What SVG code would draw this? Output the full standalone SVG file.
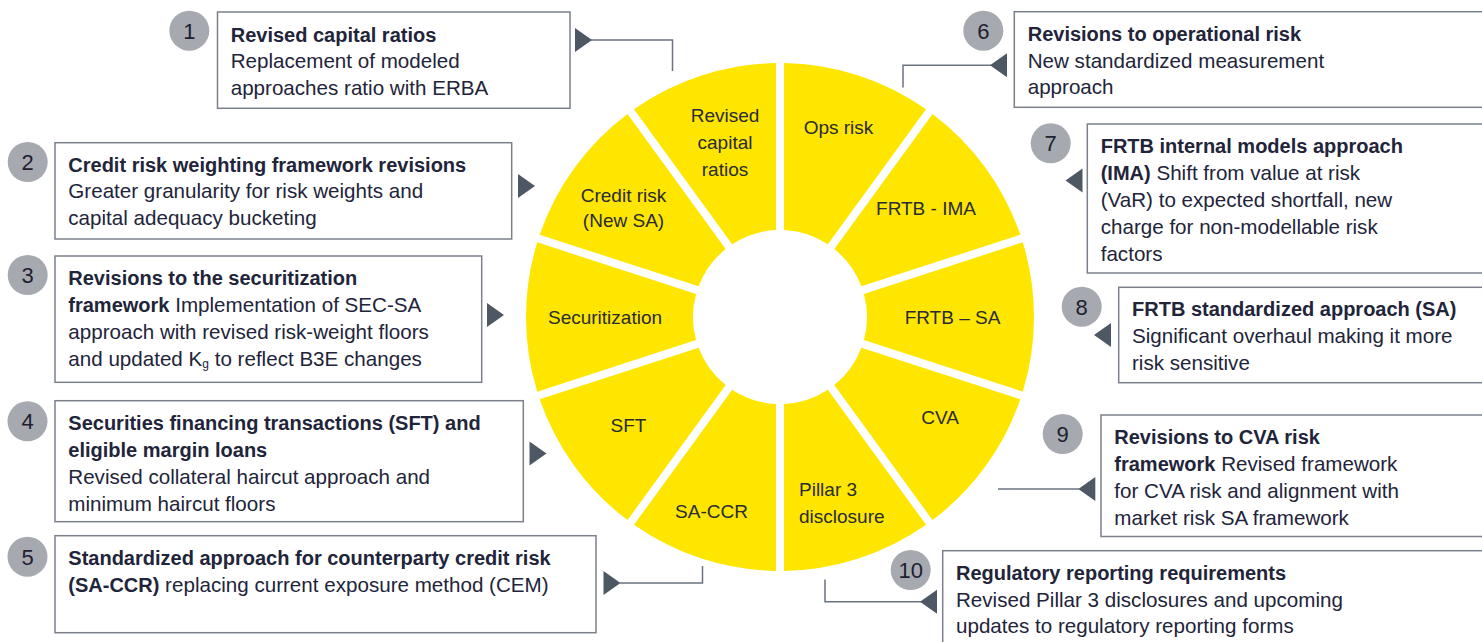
<svg xmlns="http://www.w3.org/2000/svg" xmlns:xlink="http://www.w3.org/1999/xlink" width="1482" height="642" viewBox="0 0 1482 642">
  <style>
    text { font-family: "Liberation Sans", Arial, sans-serif; }
    .box { fill: #ffffff; stroke: #7b808a; stroke-width: 1.5; }
    .t { font-size: 20.6px; fill: #22243a; }
    .b { font-weight: bold; font-size: 20px; }
    .badge { fill: #a6aab0; }
    .num { font-size: 22px; fill: #1f2030; text-anchor: middle; }
    .seg { fill: #ffe600; }
    .wl { font-size: 19px; fill: #2a2b33; text-anchor: middle; }
    .conn { fill: none; stroke: #6b7380; stroke-width: 1.5; }
    .arrow { fill: #4e5865; }
  </style>
  <defs>
    <!-- one wheel sector (0..36 deg, clockwise from 12 o'clock) with 4px half-gap on each side -->
    <path id="sector" d="M4,-253.97 A254,254 0 0 1 146.04,-207.82 L47.85,-72.66 A87,87 0 0 0 4,-86.91 Z"/>
    <!-- arrowheads: right-pointing has its base at origin, left-pointing has its tip at origin -->
    <path id="tri-r" d="M0,-12 L17,0 L0,12 Z"/>
    <path id="tri-l" d="M0,0 L17,-12 L17,12 Z"/>
  </defs>

  <!-- central wheel -->
  <g id="wheel">
    <g id="seg-ops">
      <use xlink:href="#sector" class="seg" transform="translate(780,317) rotate(0)"/>
      <text class="wl" x="838.5" y="133.5">Ops risk</text>
    </g>
    <g id="seg-frtb-ima">
      <use xlink:href="#sector" class="seg" transform="translate(780,317) rotate(36)"/>
      <text class="wl" x="926" y="215">FRTB - IMA</text>
    </g>
    <g id="seg-frtb-sa">
      <use xlink:href="#sector" class="seg" transform="translate(780,317) rotate(72)"/>
      <text class="wl" x="952.5" y="324">FRTB – SA</text>
    </g>
    <g id="seg-cva">
      <use xlink:href="#sector" class="seg" transform="translate(780,317) rotate(108)"/>
      <text class="wl" x="940" y="424">CVA</text>
    </g>
    <g id="seg-pillar3">
      <use xlink:href="#sector" class="seg" transform="translate(780,317) rotate(144)"/>
      <text class="wl" x="799" y="496" style="text-anchor:start">Pillar 3</text>
      <text class="wl" x="799" y="523" style="text-anchor:start">disclosure</text>
    </g>
    <g id="seg-saccr">
      <use xlink:href="#sector" class="seg" transform="translate(780,317) rotate(180)"/>
      <text class="wl" x="711.5" y="517.5">SA-CCR</text>
    </g>
    <g id="seg-sft">
      <use xlink:href="#sector" class="seg" transform="translate(780,317) rotate(216)"/>
      <text class="wl" x="628.5" y="431.5">SFT</text>
    </g>
    <g id="seg-securitization">
      <use xlink:href="#sector" class="seg" transform="translate(780,317) rotate(252)"/>
      <text class="wl" x="605" y="324">Securitization</text>
    </g>
    <g id="seg-credit">
      <use xlink:href="#sector" class="seg" transform="translate(780,317) rotate(288)"/>
      <text class="wl" x="623.5" y="201.5">Credit risk</text>
      <text class="wl" x="623.5" y="227">(New SA)</text>
    </g>
    <g id="seg-capital">
      <use xlink:href="#sector" class="seg" transform="translate(780,317) rotate(324)"/>
      <text class="wl" x="725" y="122">Revised</text>
      <text class="wl" x="725" y="149">capital</text>
      <text class="wl" x="725" y="176">ratios</text>
    </g>
  </g>

  <!-- connectors and arrowheads -->
  <g id="connectors">
    <path class="conn" d="M591,40 H672.5 V71"/>
    <path class="conn" d="M620,583 H702.5 V566"/>
    <path class="conn" d="M991,65.3 H903 V87.5"/>
    <path class="conn" d="M1079,489 H998"/>
    <path class="conn" d="M921,601.7 H825 V579.5"/>
    <use xlink:href="#tri-r" class="arrow" x="575" y="40"/>
    <use xlink:href="#tri-r" class="arrow" x="518" y="186"/>
    <use xlink:href="#tri-r" class="arrow" x="487" y="315"/>
    <use xlink:href="#tri-r" class="arrow" x="529.5" y="453.5"/>
    <use xlink:href="#tri-r" class="arrow" x="603.5" y="583"/>
    <use xlink:href="#tri-l" class="arrow" x="990" y="65.3"/>
    <use xlink:href="#tri-l" class="arrow" x="1065.5" y="180.5"/>
    <use xlink:href="#tri-l" class="arrow" x="1094" y="335"/>
    <use xlink:href="#tri-l" class="arrow" x="1078.3" y="489"/>
    <use xlink:href="#tri-l" class="arrow" x="920" y="601.7"/>
  </g>

  <!-- 1 -->
  <g id="item-1">
    <rect class="box" x="217.5" y="12" width="352.5" height="96.3"/>
    <circle class="badge" cx="189.3" cy="30.7" r="20"/>
    <text class="num" x="189.3" y="38.7">1</text>
    <text class="t b" x="230.7" y="41.7">Revised capital ratios</text>
    <text class="t" x="230.7" y="68.3">Replacement of modeled</text>
    <text class="t" x="230.7" y="95">approaches ratio with ERBA</text>
  </g>

  <!-- 2 -->
  <g id="item-2">
    <rect class="box" x="55" y="142.7" width="456.7" height="96.3"/>
    <circle class="badge" cx="27.7" cy="162" r="20"/>
    <text class="num" x="27.7" y="170">2</text>
    <text class="t b" x="68.3" y="171.7">Credit risk weighting framework revisions</text>
    <text class="t" x="68.3" y="198.3">Greater granularity for risk weights and</text>
    <text class="t" x="68.3" y="225">capital adequacy bucketing</text>
  </g>

  <!-- 3 -->
  <g id="item-3">
    <rect class="box" x="55" y="256" width="426.7" height="126.3"/>
    <circle class="badge" cx="27.7" cy="275" r="20"/>
    <text class="num" x="27.7" y="283">3</text>
    <text class="t b" x="68.3" y="285">Revisions to the securitization</text>
    <text class="t" x="68.3" y="312"><tspan class="b">framework</tspan> Implementation of SEC-SA</text>
    <text class="t" x="68.3" y="339">approach with revised risk-weight floors</text>
    <text class="t" x="68.3" y="366">and updated K<tspan font-size="12" dy="2">g</tspan><tspan dy="-2"> to reflect B3E changes</tspan></text>
  </g>

  <!-- 4 -->
  <g id="item-4">
    <rect class="box" x="55" y="400.7" width="468.3" height="121"/>
    <circle class="badge" cx="27.5" cy="421.3" r="20"/>
    <text class="num" x="27.5" y="429.3">4</text>
    <text class="t b" x="68.3" y="429.5">Securities financing transactions (SFT) and</text>
    <text class="t b" x="68.3" y="456.5">eligible margin loans</text>
    <text class="t" x="68.3" y="483.5">Revised collateral haircut approach and</text>
    <text class="t" x="68.3" y="510.5">minimum haircut floors</text>
  </g>

  <!-- 5 -->
  <g id="item-5">
    <rect class="box" x="55" y="535.7" width="541" height="97"/>
    <circle class="badge" cx="27.5" cy="556.7" r="20"/>
    <text class="num" x="27.5" y="564.7">5</text>
    <text class="t b" x="68.3" y="564.5">Standardized approach for counterparty credit risk</text>
    <text class="t" x="68.3" y="591.5"><tspan class="b">(SA-CCR)</tspan> replacing current exposure method (CEM)</text>
  </g>

  <!-- 6 -->
  <g id="item-6">
    <rect class="box" x="1014.3" y="11.7" width="480" height="95.6"/>
    <circle class="badge" cx="983.3" cy="30.7" r="20"/>
    <text class="num" x="983.3" y="38.7">6</text>
    <text class="t b" x="1027.7" y="40.7">Revisions to operational risk</text>
    <text class="t" x="1027.7" y="67.5">New standardized measurement</text>
    <text class="t" x="1027.7" y="94.3">approach</text>
  </g>

  <!-- 7 -->
  <g id="item-7">
    <rect class="box" x="1087.3" y="124" width="410" height="149"/>
    <circle class="badge" cx="1050.7" cy="143.3" r="20"/>
    <text class="num" x="1050.7" y="151.3">7</text>
    <text class="t b" x="1100.7" y="153">FRTB internal models approach</text>
    <text class="t" x="1100.7" y="180"><tspan class="b">(IMA)</tspan> Shift from value at risk</text>
    <text class="t" x="1100.7" y="207">(VaR) to expected shortfall, new</text>
    <text class="t" x="1100.7" y="234">charge for non-modellable risk</text>
    <text class="t" x="1100.7" y="261">factors</text>
  </g>

  <!-- 8 -->
  <g id="item-8">
    <rect class="box" x="1118.7" y="287.3" width="380" height="95.4"/>
    <circle class="badge" cx="1081.7" cy="306.7" r="20"/>
    <text class="num" x="1081.7" y="314.7">8</text>
    <text class="t b" x="1132" y="316.3">FRTB standardized approach (SA)</text>
    <text class="t" x="1132" y="343">Significant overhaul making it more</text>
    <text class="t" x="1132" y="370">risk sensitive</text>
  </g>

  <!-- 9 -->
  <g id="item-9">
    <rect class="box" x="1101" y="415" width="400" height="121.5"/>
    <circle class="badge" cx="1062.7" cy="434" r="20"/>
    <text class="num" x="1062.7" y="442">9</text>
    <text class="t b" x="1114.3" y="444">Revisions to CVA risk</text>
    <text class="t" x="1114.3" y="471"><tspan class="b">framework</tspan> Revised framework</text>
    <text class="t" x="1114.3" y="498">for CVA risk and alignment with</text>
    <text class="t" x="1114.3" y="525">market risk SA framework</text>
  </g>

  <!-- 10 -->
  <g id="item-10">
    <rect class="box" x="942.7" y="550.7" width="560" height="110"/>
    <circle class="badge" cx="910.7" cy="570" r="20"/>
    <text class="num" x="910.7" y="578">10</text>
    <text class="t b" x="956" y="579.7">Regulatory reporting requirements</text>
    <text class="t" x="956" y="606.5">Revised Pillar 3 disclosures and upcoming</text>
    <text class="t" x="956" y="633">updates to regulatory reporting forms</text>
  </g>
</svg>
